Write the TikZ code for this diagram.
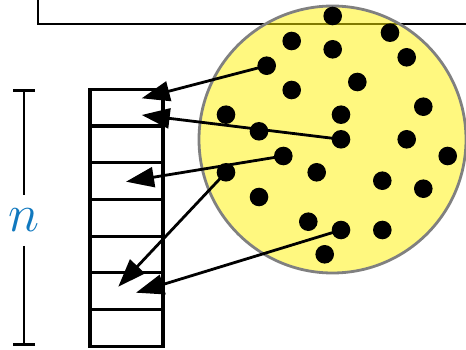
\documentclass[tikz,border=0pt]{standalone}
\usepackage{fix-cm}
\usepackage{xcolor}
\usepackage{tikz}
\usetikzlibrary{arrows.meta, positioning, calc}
\definecolor{myblue}{RGB}{16,120,190}
\definecolor{mydark}{RGB}{0,0,0}
\definecolor{myrim}{RGB}{128,128,128}
\tikzset{
  dot/.style={circle, fill=mydark, minimum size=18.6pt, inner sep=0pt},
  cell/.style={rectangle, draw=mydark, minimum width=73pt, minimum height=36.7pt,
    inner sep=0pt, outer sep=0pt, line width=3.1pt},
  pool/.style={circle, draw=myrim, fill=yellow, fill opacity=0.5,
    line width=2.8pt, minimum size=267pt, inner sep=0pt},
  arrow/.style={-{Triangle[length=28pt, width=20pt]}, line width=2.8pt, color=mydark},
  dimline/.style={line width=2.8pt, color=mydark}
}

\begin{document}
\begin{tikzpicture}[x=1pt, y=-1pt]
  \useasboundingbox (0,0) rectangle (466,350);

  % outer box, cut off at the top
  \draw[line width=2.5pt] (38,-20) rectangle (490,24);

  % pool of items
  \node[pool] (pool) at (332.5,139.5) {};
  \foreach \nm/\px/\py in {d1/332.7/16, d2/291.7/41, d3/332.7/49.3, d4/390/32.7,
      d5/406.7/57.3, d6/266.7/65.7, d7/291.7/90, d8/357.3/82, d9/423.3/106.7,
      d10/226/114.7, d11/341/114.7, d12/259/131.3, d13/341/139.3, d14/406.7/139.3,
      d15/447.7/156, d16/283.3/156, d17/226/172.3, d18/316.7/172.3, d19/382.3/180.7,
      d20/423.3/188.7, d21/259/197, d22/308.3/221.7, d23/341/230, d24/382.3/230,
      d25/324.7/254.3}
    \node[dot] (\nm) at (\px,\py) {};

  % table with n slots
  \foreach \i in {0,...,6}
    \node[cell] (c\i) at (126.5,{107.65+36.7*\i}) {};

  % size of the table
  \coordinate (ntop) at (24,89.3);
  \coordinate (nbot) at (24,346);
  \node[inner sep=0pt, minimum height=52.4pt, font=\fontsize{53}{60}\selectfont, text=myblue] (n) at (24,220.5) {$n$};
  \draw[dimline, {Bar[width=22pt]}-] (ntop) -- ([yshift=-1pt]n.north);
  \draw[dimline, -{Bar[width=22pt]}] ([yshift=1pt]n.south) -- (nbot);

  % where the arrows land
  \coordinate (t1) at (141.7,98.3);
  \coordinate (t2) at (141.7,115);
  \coordinate (t3) at (126,181.7);
  \coordinate (t4) at (118.3,286.7);
  \coordinate (t5) at (136,292.7);

  % items hashed into slots
  \draw[arrow] (d6.center) -- (t1);
  \draw[arrow] (d13.center) -- (t2);
  \draw[arrow] (d16.center) -- (t3);
  \draw[arrow] (d17.center) -- (t4);
  \draw[arrow] (d23.center) -- (t5);
\end{tikzpicture}
\end{document}
